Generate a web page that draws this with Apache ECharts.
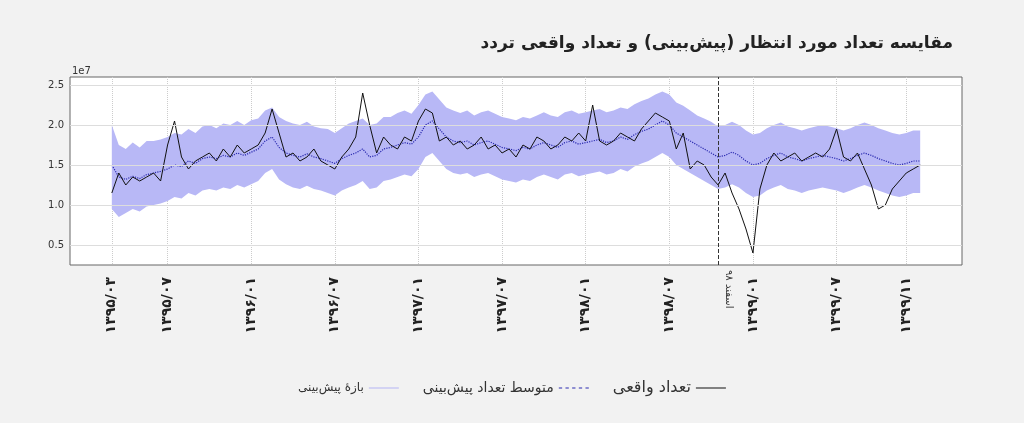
<!DOCTYPE html>
<html><head><meta charset="utf-8">
<script src="https://cdn.jsdelivr.net/npm/echarts@6/dist/echarts.min.js"></script>
<style>html,body{margin:0;background:#f2f2f2}#c{width:1024px;height:423px}</style>
</head><body><div id="c"></div>
<script>
const tickLabels = {6:'۱۳۹۵/۰۳',14:'۱۳۹۵/۰۷',26:'۱۳۹۶/۰۱',38:'۱۳۹۶/۰۷',50:'۱۳۹۷/۰۱',62:'۱۳۹۷/۰۷',74:'۱۳۹۸/۰۱',86:'۱۳۹۸/۰۷',98:'۱۳۹۹/۰۱',110:'۱۳۹۹/۰۷',120:'۱۳۹۹/۱۱'};
const padStart = 6, padEnd = 6;
const meanVals = [1.50,1.35,1.32,1.36,1.33,1.38,1.40,1.42,
1.45,1.50,1.48,1.55,1.52,1.58,1.60,1.58,1.62,1.60,1.65,1.62,1.66,
1.70,1.80,1.85,1.72,1.65,1.62,1.60,1.64,1.60,1.58,1.55,1.52,
1.58,1.62,1.65,1.70,1.60,1.62,1.70,1.72,1.75,1.78,1.76,1.85,
2.00,2.05,1.95,1.85,1.80,1.78,1.80,1.75,1.78,1.80,1.76,1.72,
1.70,1.68,1.72,1.70,1.75,1.78,1.75,1.72,1.78,1.80,1.76,1.78,
1.80,1.82,1.78,1.80,1.85,1.82,1.88,1.92,1.95,2.00,2.05,2.00,
1.90,1.85,1.80,1.75,1.70,1.65,1.60,
1.62,1.66,1.62,1.55,1.50,
1.52,1.58,1.62,1.65,1.60,1.58,1.55,1.58,1.60,1.62,1.60,1.58,
1.55,1.58,1.62,1.65,1.62,1.58,1.55,1.52,1.50,1.52,1.55,1.55];
const actualVals = [1.15,1.40,1.25,1.35,1.30,1.35,1.40,1.30,
1.75,2.05,1.60,1.45,1.55,1.60,1.65,1.55,1.70,1.60,1.75,1.65,1.70,
1.75,1.90,2.20,1.90,1.60,1.65,1.55,1.60,1.70,1.55,1.50,1.45,
1.60,1.70,1.85,2.40,2.00,1.65,1.85,1.75,1.70,1.85,1.80,2.05,
2.20,2.15,1.80,1.85,1.75,1.80,1.70,1.75,1.85,1.70,1.75,1.65,
1.70,1.60,1.75,1.70,1.85,1.80,1.70,1.75,1.85,1.80,1.90,1.80,
2.25,1.80,1.75,1.80,1.90,1.85,1.80,1.95,2.05,2.15,2.10,2.05,
1.70,1.90,1.45,1.55,1.50,1.35,1.25,
1.40,1.15,0.95,0.70,0.40,
1.20,1.50,1.65,1.55,1.60,1.65,1.55,1.60,1.65,1.60,1.70,1.95,
1.60,1.55,1.65,1.45,1.25,0.95,1.00,1.20,1.30,1.40,1.45,1.50];
const upperVals = [2.00,1.75,1.70,1.78,1.72,1.80,1.80,1.82,
1.85,1.90,1.88,1.95,1.90,1.98,2.00,1.96,2.02,2.00,2.05,2.00,2.06,
2.08,2.18,2.22,2.10,2.05,2.02,2.00,2.04,1.98,1.96,1.95,1.90,
1.96,2.02,2.05,2.08,2.00,2.02,2.10,2.10,2.15,2.18,2.14,2.25,
2.38,2.42,2.32,2.22,2.18,2.15,2.18,2.12,2.16,2.18,2.14,2.10,
2.08,2.06,2.10,2.08,2.12,2.16,2.12,2.10,2.16,2.18,2.14,2.16,
2.18,2.20,2.16,2.18,2.22,2.20,2.26,2.30,2.33,2.38,2.42,2.38,
2.28,2.24,2.18,2.12,2.08,2.04,1.98,
2.00,2.04,2.00,1.93,1.88,
1.90,1.96,2.00,2.03,1.98,1.96,1.93,1.96,1.98,2.00,1.98,1.96,
1.93,1.96,2.00,2.03,2.00,1.96,1.93,1.90,1.88,1.90,1.93,1.93];
const lowerVals = [0.95,0.85,0.90,0.95,0.92,0.98,1.00,1.02,
1.05,1.10,1.08,1.15,1.12,1.18,1.20,1.18,1.22,1.20,1.25,1.22,1.26,
1.30,1.40,1.45,1.32,1.26,1.22,1.20,1.24,1.20,1.18,1.15,1.12,
1.18,1.22,1.25,1.30,1.20,1.22,1.30,1.32,1.35,1.38,1.36,1.45,
1.60,1.65,1.55,1.45,1.40,1.38,1.40,1.35,1.38,1.40,1.36,1.32,
1.30,1.28,1.32,1.30,1.35,1.38,1.35,1.32,1.38,1.40,1.36,1.38,
1.40,1.42,1.38,1.40,1.45,1.42,1.48,1.52,1.55,1.60,1.65,1.60,
1.50,1.45,1.40,1.35,1.30,1.25,1.20,
1.22,1.26,1.22,1.15,1.10,
1.12,1.18,1.22,1.25,1.20,1.18,1.15,1.18,1.20,1.22,1.20,1.18,
1.15,1.18,1.22,1.25,1.22,1.18,1.15,1.12,1.10,1.12,1.15,1.15];
const yTicks = [0.5,1.0,1.5,2.0,2.5];
const esfandIndex = 93;

const n = padStart + meanVals.length + padEnd;
const cats = Array.from({length:n},(_,i)=>String(i));
const pad = a => Array(padStart).fill(null).concat(a, Array(padEnd).fill(null));
const isTick = i => tickLabels[i] !== undefined;
const font = 'DejaVu Sans';
const lineIcon = 'path://M0,4.5h30v1h-30z';
const chart = echarts.init(document.getElementById('c'));
chart.setOption({
  backgroundColor:'#f2f2f2',
  animation:false,
  textStyle:{fontFamily:font},
  title:{text:'مقایسه تعداد مورد انتظار (پیش‌بینی) و تعداد واقعی تردد',right:66,top:30,
    textStyle:{fontSize:17,fontWeight:'bold',color:'#222',fontFamily:font}},
  legend:{bottom:22,left:'center',align:'right',itemWidth:30,itemHeight:10,itemGap:24,
    data:[
      {name:'بازهٔ پیش‌بینی',icon:lineIcon,itemStyle:{color:'#b4b4f4'},textStyle:{fontSize:12}},
      {name:'متوسط تعداد پیش‌بینی',icon:'path://M0,4.5h3v1h-3zM6,4.5h3v1h-3zM12,4.5h3v1h-3zM18,4.5h3v1h-3zM24,4.5h3v1h-3z',textStyle:{fontSize:14}},
      {name:'تعداد واقعی',icon:lineIcon,textStyle:{fontSize:16}}
    ],textStyle:{color:'#333'}},
  graphic:[{type:'text',left:72,top:66,style:{text:'1e7',fontSize:10,fill:'#333',fontFamily:font}}],
  grid:{left:70,right:62,top:77,bottom:158,show:true,backgroundColor:'#fff',borderColor:'#666',borderWidth:1},
  xAxis:{type:'category',data:cats,boundaryGap:false,
    axisLine:{show:false},axisTick:{show:false},
    axisLabel:{interval:(i)=>isTick(i),formatter:(v,i)=>tickLabels[i]||'',rotate:90,fontSize:14,fontWeight:'bold',color:'#222',margin:12},
    splitLine:{show:true,interval:(i)=>isTick(i),lineStyle:{color:'#ccc',type:'dotted'}}},
  yAxis:{type:'value',min:0.25,max:2.6,
    axisLine:{show:false},axisTick:{show:false},
    axisLabel:{customValues:yTicks,formatter:v=>v.toFixed(1),fontSize:10,color:'#333',margin:6},
    splitLine:{show:false}},
  series:[
    {name:'_low',type:'line',data:pad(lowerVals),stack:'band',symbol:'none',lineStyle:{opacity:0},silent:true,z:1},
    {name:'بازهٔ پیش‌بینی',type:'line',data:pad(upperVals.map((u,i)=>u-lowerVals[i])),stack:'band',symbol:'none',
      lineStyle:{opacity:0},areaStyle:{color:'#b8b8f6',opacity:1},itemStyle:{color:'#b4b4f4'},z:1},
    {name:'_grid',type:'line',data:[],markLine:{silent:true,symbol:'none',label:{show:false},
      lineStyle:{color:'#ddd',type:'solid',width:1},data:yTicks.map(v=>({yAxis:v}))},z:0},
    {name:'متوسط تعداد پیش‌بینی',type:'line',data:pad(meanVals),symbol:'none',
      lineStyle:{color:'#2b2bb0',width:1.2,type:'dotted'},itemStyle:{color:'#2b2bb0'},z:3},
    {name:'تعداد واقعی',type:'line',data:pad(actualVals),symbol:'none',
      lineStyle:{color:'#111',width:1},itemStyle:{color:'#111'},z:4,
      markLine:{silent:true,symbol:'none',lineStyle:{color:'#333',type:'dashed',width:1},
        label:{show:true,position:'insideStartTop',formatter:'اسفند ۹۸',rotate:-90,fontSize:10,color:'#333'},
        data:[{xAxis:esfandIndex}]}}
  ]
});
</script></body></html>
